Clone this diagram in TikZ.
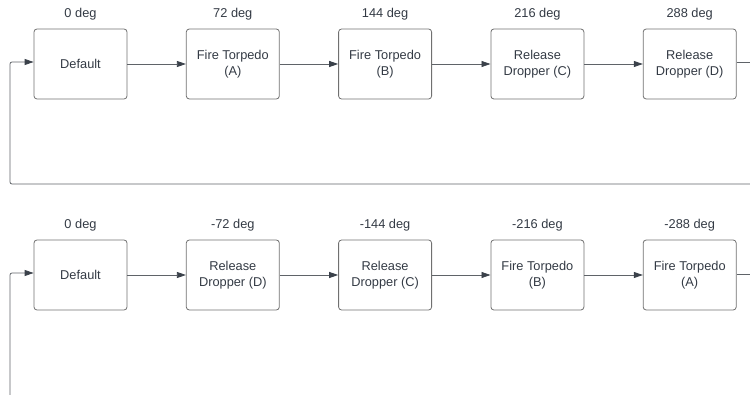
\documentclass[tikz,border=0pt]{standalone}
\usepackage{fontspec}
\setmainfont{Liberation Sans}
\usetikzlibrary{arrows.meta, positioning}
\definecolor{lcInk}{HTML}{333a44}
\definecolor{lcBorder}{HTML}{707070}
\definecolor{lcLine}{HTML}{5f6368}
\definecolor{lcTip}{HTML}{3a414a}

\begin{document}
\begin{tikzpicture}[x=1pt, y=1pt, font=\fontsize{12.8}{16}\selectfont,
        state/.style={draw=lcBorder, line width=0.8pt, rounded corners=3pt, text=lcInk, align=center, minimum width=93pt, minimum height=70pt, inner sep=2pt},
        deg/.style={text=lcInk, inner sep=0pt},
        link/.style={draw=lcLine, line width=0.8pt, -{Triangle[length=9pt, width=6pt, color=lcTip]}},
        node distance=58.5pt]
  \useasboundingbox (0,0) rectangle (750,-395);
  % clockwise sequence
  \node[state] (cw0) at (80.5,-64) {Default};
  \node[state, right=of cw0] (cw1) {Fire Torpedo\\(A)};
  \node[state, right=of cw1] (cw2) {Fire Torpedo\\(B)};
  \node[state, right=of cw2] (cw3) {Release\\Dropper (C)};
  \node[state, right=of cw3] (cw4) {Release\\Dropper (D)};
  \foreach \n/\a in {cw0/0, cw1/72, cw2/144, cw3/216, cw4/288}
    \node[deg, above=8pt of \n.north] {\a{} deg};
  \foreach \a/\b in {cw0/cw1, cw1/cw2, cw2/cw3, cw3/cw4}
    \draw[link] (\a) -- (\b);
  \coordinate (cwOut) at (750,-62);
  \coordinate (cwBack) at (750,-184);
  \coordinate (cwTurn) at (10,-184);
  \draw[draw=lcLine, line width=0.8pt] (cw4.east |- cwOut) -- (cwOut);
  \draw[link, rounded corners=2pt] (cwBack) -- (cwTurn) |- ([yshift=2pt]cw0.west);

  % counter-clockwise sequence
  \node[state] (cc0) at (80.5,-275) {Default};
  \node[state, right=of cc0] (cc1) {Release\\Dropper (D)};
  \node[state, right=of cc1] (cc2) {Release\\Dropper (C)};
  \node[state, right=of cc2] (cc3) {Fire Torpedo\\(B)};
  \node[state, right=of cc3] (cc4) {Fire Torpedo\\(A)};
  \foreach \n/\a in {cc0/0, cc1/-72, cc2/-144, cc3/-216, cc4/-288}
    \node[deg, above=8pt of \n.north] {\a{} deg};
  \foreach \a/\b in {cc0/cc1, cc1/cc2, cc2/cc3, cc3/cc4}
    \draw[link] (\a) -- (\b);
  \coordinate (ccOut) at (750,-274);
  \coordinate (ccBack) at (10,-395);
  \draw[draw=lcLine, line width=0.8pt] (cc4.east |- ccOut) -- (ccOut);
  \draw[link, rounded corners=2pt] (ccBack) |- ([yshift=2pt]cc0.west);
\end{tikzpicture}
\end{document}
